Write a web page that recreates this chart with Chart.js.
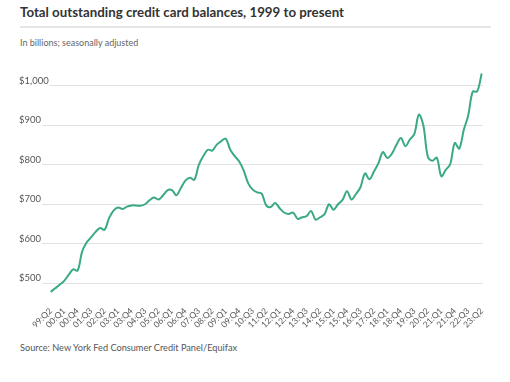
<!DOCTYPE html>
<html>
<head>
<meta charset="utf-8">
<script src="https://cdn.jsdelivr.net/npm/chart.js@4/dist/chart.umd.min.js"></script>
<style>
  html, body { margin: 0; padding: 0; background: #fff; }
  body { width: 510px; height: 382px; position: relative; overflow: hidden; font-family: Lato, "Open Sans", sans-serif; }
  #title { position: absolute; left: 20px; top: 4px; font-size: 13.3px; font-weight: 700; color: #333; white-space: nowrap; }
  #rule { position: absolute; left: 20px; top: 26px; width: 471px; height: 2px; background: #e6e6e6; }
  #sub { position: absolute; left: 20px; top: 37px; font-size: 9px; color: #666; white-space: nowrap; }
  #src { position: absolute; left: 20px; top: 342px; font-size: 9.2px; color: #555; white-space: nowrap; }
  canvas { position: absolute; left: 0; top: 0; }
</style>
</head>
<body>
<div id="title">Total outstanding credit card balances, 1999 to present</div>
<div id="rule"></div>
<div id="sub">In billions; seasonally adjusted</div>
<div id="src">Source: New York Fed Consumer Credit Panel/Equifax</div>
<canvas id="c" width="510" height="382"></canvas>
<script>
// Quarters (categories), 1999 Q2 to 2023 Q2
const quarters = [
  '99:Q2','99:Q3','99:Q4',
  '00:Q1','00:Q2','00:Q3','00:Q4',
  '01:Q1','01:Q2','01:Q3','01:Q4',
  '02:Q1','02:Q2','02:Q3','02:Q4',
  '03:Q1','03:Q2','03:Q3','03:Q4',
  '04:Q1','04:Q2','04:Q3','04:Q4',
  '05:Q1','05:Q2','05:Q3','05:Q4',
  '06:Q1','06:Q2','06:Q3','06:Q4',
  '07:Q1','07:Q2','07:Q3','07:Q4',
  '08:Q1','08:Q2','08:Q3','08:Q4',
  '09:Q1','09:Q2','09:Q3','09:Q4',
  '10:Q1','10:Q2','10:Q3','10:Q4',
  '11:Q1','11:Q2','11:Q3','11:Q4',
  '12:Q1','12:Q2','12:Q3','12:Q4',
  '13:Q1','13:Q2','13:Q3','13:Q4',
  '14:Q1','14:Q2','14:Q3','14:Q4',
  '15:Q1','15:Q2','15:Q3','15:Q4',
  '16:Q1','16:Q2','16:Q3','16:Q4',
  '17:Q1','17:Q2','17:Q3','17:Q4',
  '18:Q1','18:Q2','18:Q3','18:Q4',
  '19:Q1','19:Q2','19:Q3','19:Q4',
  '20:Q1','20:Q2','20:Q3','20:Q4',
  '21:Q1','21:Q2','21:Q3','21:Q4',
  '22:Q1','22:Q2','22:Q3','22:Q4',
  '23:Q1','23:Q2'
];

// Balances, $ billions
const balances = [
  478, 487, 496,
  506, 521, 535, 532,
  580, 603, 616, 630,
  640, 635, 665, 684,
  692, 688, 694, 697,
  697, 696, 700, 710,
  717, 712, 722, 735,
  736, 723, 741, 760,
  767, 762, 800, 822,
  838, 836, 851, 860,
  866, 838, 822, 808,
  785, 753, 737, 730,
  727, 697, 693, 703,
  690, 679, 675, 679,
  663, 667, 670, 683,
  661, 667, 675, 700,
  686, 700, 711, 733,
  712, 726, 743, 778,
  763, 783, 804, 832,
  817, 828, 850, 868,
  847, 864, 878, 927,
  900, 820, 810, 818,
  771, 787, 802, 855,
  841, 888, 925, 985,
  986, 1031
];

// Axis tick labels
const xTickLabels = ['99:Q2','00:Q1','00:Q4','01:Q3','02:Q2','03:Q1','03:Q4','04:Q3','05:Q2','06:Q1','06:Q4','07:Q3','08:Q2','09:Q1','09:Q4','10:Q3','11:Q2','12:Q1','12:Q4','13:Q3','14:Q2','15:Q1','15:Q4','16:Q3','17:Q2','18:Q1','18:Q4','19:Q3','20:Q2','21:Q1','21:Q4','22:Q3','23:Q2'];
const yTickValues = [500, 600, 700, 800, 900, 1000];

const points = balances.map((v, i) => ({ x: i, y: v }));

new Chart(document.getElementById('c'), {
  type: 'line',
  data: {
    datasets: [{
      data: points,
      borderColor: '#3aaa82',
      borderWidth: 2,
      pointRadius: 0,
      tension: 0.35,
      fill: false
    }]
  },
  options: {
    responsive: false,
    animation: false,
    devicePixelRatio: 1,
    layout: { padding: { left: 18, right: 27, top: 70, bottom: 0 } },
    plugins: { legend: { display: false }, tooltip: { enabled: false }, title: { display: false } },
    scales: {
      x: {
        type: 'linear',
        min: -7.28,
        max: 96.29,
        grid: { display: false, drawTicks: false },
        border: { display: false },
        afterBuildTicks: (axis) => { axis.ticks = xTickLabels.map(l => ({ value: quarters.indexOf(l) })); },
        afterFit: (s) => { s.height = 83; },
        ticks: {
          autoSkip: false,
          minRotation: 45,
          maxRotation: 45,
          padding: 7,
          color: '#555',
          font: { family: 'Lato', size: 8.5 },
          callback: (v) => quarters[v]
        }
      },
      y: {
        min: 460,
        max: 1040,
        grid: { color: '#e2e2e2', lineWidth: 1, drawTicks: false },
        border: { display: false },
        afterBuildTicks: (axis) => { axis.ticks = yTickValues.map(v => ({ value: v })); },
        afterFit: (s) => { s.width = 0; },
        ticks: {
          mirror: true,
          padding: 1,
          labelOffset: -5,
          color: '#555',
          font: { family: 'Lato', size: 9.5 },
          showLabelBackdrop: true,
          backdropColor: '#ffffff',
          backdropPadding: { top: 1, bottom: 3, left: 1, right: 1 },
          callback: (v) => '$' + v.toLocaleString('en-US')
        }
      }
    }
  }
});
</script>
</body>
</html>
